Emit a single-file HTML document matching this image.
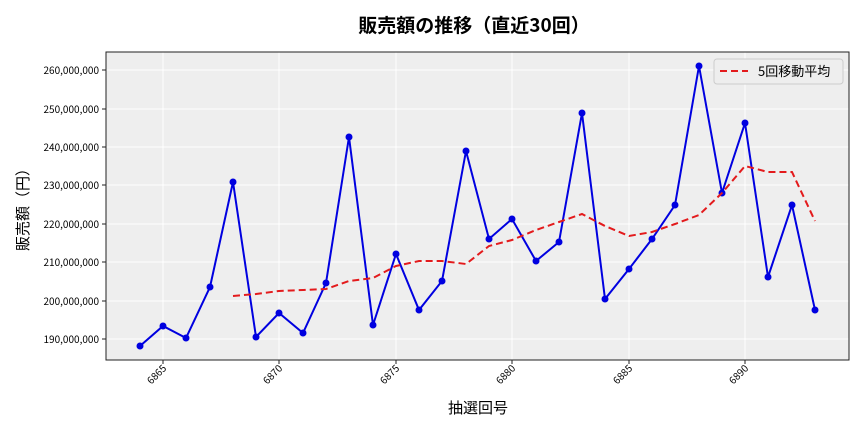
<!DOCTYPE html>
<html><head><meta charset="utf-8"><style>
body{margin:0;background:#fff;}
svg text{font-family:"Noto Sans CJK JP","Liberation Sans",sans-serif;}
</style></head><body>
<svg width="864" height="432" xmlns="http://www.w3.org/2000/svg">
<rect x="106" y="52" width="743" height="308" fill="#eeeeee"/>
<g stroke="#fff" stroke-width="1">
<line x1="106" x2="849" y1="70" y2="70"/><line x1="106" x2="849" y1="109" y2="109"/>
<line x1="106" x2="849" y1="147" y2="147"/><line x1="106" x2="849" y1="185" y2="185"/>
<line x1="106" x2="849" y1="224" y2="224"/><line x1="106" x2="849" y1="262" y2="262"/>
<line x1="106" x2="849" y1="301" y2="301"/><line x1="106" x2="849" y1="339" y2="339"/>
<line y1="52" y2="360" x1="163" x2="163"/><line y1="52" y2="360" x1="279" x2="279"/>
<line y1="52" y2="360" x1="396" x2="396"/><line y1="52" y2="360" x1="512" x2="512"/>
<line y1="52" y2="360" x1="629" x2="629"/><line y1="52" y2="360" x1="745" x2="745"/>
</g>
<rect x="106" y="52" width="743" height="308" fill="none" stroke="#222" stroke-width="1"/>
<g font-size="10" fill="#000" text-anchor="end">
<text x="99" y="74">260,000,000</text><text x="99" y="113">250,000,000</text>
<text x="99" y="151">240,000,000</text><text x="99" y="189">230,000,000</text>
<text x="99" y="228">220,000,000</text><text x="99" y="266">210,000,000</text>
<text x="99" y="305">200,000,000</text><text x="99" y="343">190,000,000</text>
</g>
<g stroke="#222"><line x1="102" x2="106" y1="70" y2="70"/><line x1="102" x2="106" y1="109" y2="109"/><line x1="102" x2="106" y1="147" y2="147"/><line x1="102" x2="106" y1="185" y2="185"/><line x1="102" x2="106" y1="224" y2="224"/><line x1="102" x2="106" y1="262" y2="262"/><line x1="102" x2="106" y1="301" y2="301"/><line x1="102" x2="106" y1="339" y2="339"/>
<line y1="360" y2="364" x1="163" x2="163"/><line y1="360" y2="364" x1="279" x2="279"/><line y1="360" y2="364" x1="396" x2="396"/><line y1="360" y2="364" x1="512" x2="512"/><line y1="360" y2="364" x1="629" x2="629"/><line y1="360" y2="364" x1="745" x2="745"/></g>
<g font-size="10" fill="#000" text-anchor="end">
<text transform="translate(167,369) rotate(-45)">6865</text><text transform="translate(283,369) rotate(-45)">6870</text>
<text transform="translate(400,369) rotate(-45)">6875</text><text transform="translate(516,369) rotate(-45)">6880</text>
<text transform="translate(633,369) rotate(-45)">6885</text><text transform="translate(749,369) rotate(-45)">6890</text>
</g>
<polyline fill="none" stroke="#0000e0" stroke-width="2" points="140,346 163,326 186,338 210,287 233,182 256,337 279,313 303,333 326,283 349,137 373,325 396,254 419,310 442,281 466,151 489,239 512,219 536,261 559,242 582,113 605,299 629,269 652,239 675,205 699,66 722,193 745,123 768,277 792,205 815,310"/>
<g fill="#0000e0">
<circle cx="140" cy="346" r="3.5"/><circle cx="163" cy="326" r="3.5"/><circle cx="186" cy="338" r="3.5"/><circle cx="210" cy="287" r="3.5"/><circle cx="233" cy="182" r="3.5"/><circle cx="256" cy="337" r="3.5"/><circle cx="279" cy="313" r="3.5"/><circle cx="303" cy="333" r="3.5"/><circle cx="326" cy="283" r="3.5"/><circle cx="349" cy="137" r="3.5"/><circle cx="373" cy="325" r="3.5"/><circle cx="396" cy="254" r="3.5"/><circle cx="419" cy="310" r="3.5"/><circle cx="442" cy="281" r="3.5"/><circle cx="466" cy="151" r="3.5"/><circle cx="489" cy="239" r="3.5"/><circle cx="512" cy="219" r="3.5"/><circle cx="536" cy="261" r="3.5"/><circle cx="559" cy="242" r="3.5"/><circle cx="582" cy="113" r="3.5"/><circle cx="605" cy="299" r="3.5"/><circle cx="629" cy="269" r="3.5"/><circle cx="652" cy="239" r="3.5"/><circle cx="675" cy="205" r="3.5"/><circle cx="699" cy="66" r="3.5"/><circle cx="722" cy="193" r="3.5"/><circle cx="745" cy="123" r="3.5"/><circle cx="768" cy="277" r="3.5"/><circle cx="792" cy="205" r="3.5"/><circle cx="815" cy="310" r="3.5"/>
</g>
<polyline fill="none" stroke="#e31a1c" stroke-width="2" stroke-dasharray="7,4" points="233,296 256,294 279,291 303,290 326,289 349,281 373,278 396,266 419,261 442,261 466,264 489,246 512,240 536,230 559,222 582,214 605,226 629,236 652,232 675,224 699,215 722,193 745,166 768,172 792,172 815,221"/>
<rect x="714" y="59" width="129" height="25" rx="3" fill="#eeeeee" stroke="#ccc"/>
<line x1="720" x2="748" y1="71" y2="71" stroke="#e31a1c" stroke-width="2" stroke-dasharray="7,4"/>
<text x="758" y="76" font-size="13" fill="#000">5回移動平均</text>
<text x="474" y="32" font-size="19" font-weight="bold" text-anchor="middle" fill="#000">販売額の推移（直近30回）</text>
<text x="478" y="413" font-size="15" text-anchor="middle" fill="#000">抽選回号</text>
<text transform="translate(28,206) rotate(-90)" font-size="15" text-anchor="middle" fill="#000">販売額（円）</text>
</svg>
</body></html>
